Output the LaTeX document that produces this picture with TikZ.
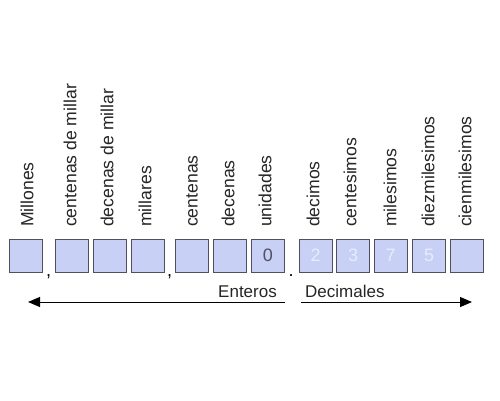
\documentclass[tikz,border=0pt]{standalone}
\usepackage{fontspec}
\setmainfont{Liberation Sans}
\usetikzlibrary{arrows.meta}
\definecolor{boxfill}{RGB}{200,208,245}
\definecolor{boxline}{RGB}{80,80,90}
\definecolor{darkdig}{RGB}{80,80,100}
\definecolor{litedig}{RGB}{232,236,250}
\tikzset{
  cell/.style={draw=boxline, line width=0.9pt, fill=boxfill, minimum width=33pt, minimum height=33pt, inner sep=0pt, font=\fontsize{18}{18}\selectfont},
  lbl/.style={rotate=90, anchor=west, inner sep=0pt, font=\fontsize{17.6}{17.6}\selectfont, text=black!85},
  txt/.style={inner sep=0pt, font=\fontsize{17}{17}\selectfont, text=black!85},
  sep/.style={inner sep=0pt, font=\fontsize{18}{18}\selectfont},
  arr/.style={line width=1pt, -{Triangle[length=12pt, width=10pt]}}
}
\begin{document}
\begin{tikzpicture}[x=1pt,y=-1pt]
\useasboundingbox[fill=white] (0,0) rectangle (500,400);
% cells
\node[cell] (c1) at (26,255.5) {};
\node[cell] (c2) at (71.5,255.5) {};
\node[cell] (c3) at (109.5,255.5) {};
\node[cell] (c4) at (147.5,255.5) {};
\node[cell] (c5) at (191.5,255.5) {};
\node[cell] (c6) at (230,255.5) {};
\node[cell, text=darkdig] (c7) at (268,255.5) {0};
\node[cell, text=litedig] (c8) at (315.5,255.5) {2};
\node[cell, text=litedig] (c9) at (353,255.5) {3};
\node[cell, text=litedig] (c10) at (390.5,255.5) {7};
\node[cell, text=litedig] (c11) at (429,255.5) {5};
\node[cell] (c12) at (466.5,255.5) {};
% separators
\node[sep, anchor=base] (k1) at (48.5,276) {,};
\node[sep, anchor=base] (k2) at (169.5,276) {,};
\node[sep, anchor=base] (pt) at (291,276) {.};
% labels
\node[lbl] (l1) at (27,227) {Millones};
\node[lbl] (l2) at (70,227) {centenas de millar};
\node[lbl] (l3) at (107,227) {decenas de millar};
\node[lbl] (l4) at (145,227) {millares};
\node[lbl] (l5) at (192,227) {centenas};
\node[lbl] (l6) at (228,227) {decenas};
\node[lbl] (l7) at (265,227) {unidades};
\node[lbl] (l8) at (313,227) {decimos};
\node[lbl] (l9) at (350,227) {centesimos};
\node[lbl] (l10) at (390,227) {milesimos};
\node[lbl] (l11) at (428,227) {diezmilesimos};
\node[lbl] (l12) at (465,227) {cienmilesimos};
% arrows
\coordinate (a1s) at (285,302);
\coordinate (a1e) at (28,302);
\coordinate (a2s) at (301,302);
\coordinate (a2e) at (472,302);
\draw[arr] (a1s) -- (a1e);
\draw[arr] (a2s) -- (a2e);
\node[txt, anchor=base east] (ent) at (277,297) {Enteros};
\node[txt, anchor=base west] (dec) at (305,297) {Decimales};
\end{tikzpicture}
\end{document}
